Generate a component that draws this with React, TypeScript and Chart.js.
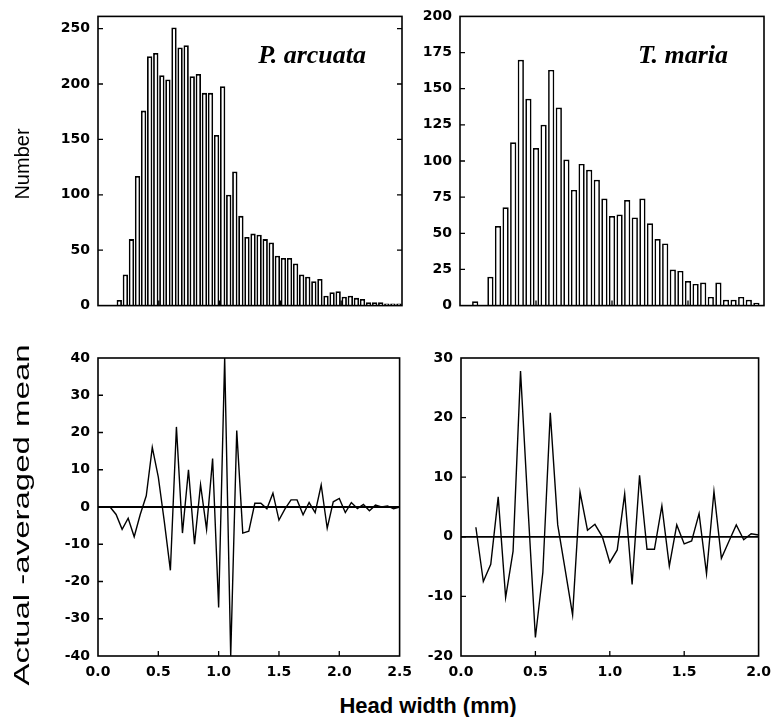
import React, { useEffect, useRef } from "react";
import { Chart, registerables } from "chart.js";
Chart.register(...registerables);

// ---- Data ----
const arcuataLabel = "P. arcuata";
const mariaLabel = "T. maria";

const arcuataBins = [
  0.175, 0.225, 0.275, 0.325, 0.375, 0.425, 0.475, 0.525, 0.575, 0.625,
  0.675, 0.725, 0.775, 0.825, 0.875, 0.925, 0.975, 1.025, 1.075, 1.125,
  1.175, 1.225, 1.275, 1.325, 1.375, 1.425, 1.475, 1.525, 1.575, 1.625,
  1.675, 1.725, 1.775, 1.825, 1.875, 1.925, 1.975, 2.025, 2.075, 2.125,
  2.175, 2.225, 2.275, 2.325, 2.375, 2.425, 2.475,
];
const arcuataCounts = [
  5, 28, 60, 117, 176, 225, 228, 208, 204, 251,
  233, 235, 207, 209, 192, 192, 154, 198, 100, 121,
  81, 62, 65, 64, 60, 57, 45, 43, 43, 38,
  28, 26, 22, 24, 9, 12, 13, 8, 9, 7,
  6, 3, 3, 3, 2, 2, 2,
];

const mariaBins = [
  0.1, 0.2, 0.25, 0.3, 0.35, 0.4, 0.45, 0.5, 0.55, 0.6,
  0.65, 0.7, 0.75, 0.8, 0.85, 0.9, 0.95, 1.0, 1.05, 1.1,
  1.15, 1.2, 1.25, 1.3, 1.35, 1.4, 1.45, 1.5, 1.55, 1.6,
  1.65, 1.7, 1.75, 1.8, 1.85, 1.9, 1.95,
];
const mariaCounts = [
  3, 20, 55, 68, 113, 170, 143, 109, 125, 163,
  137, 101, 80, 98, 94, 87, 74, 62, 63, 73,
  61, 74, 57, 46, 43, 25, 24, 17, 15, 16,
  6, 16, 4, 4, 6, 4, 2,
];

const arcuataDiffX = [
  0.1, 0.15, 0.2, 0.25, 0.3, 0.35, 0.4, 0.45, 0.5, 0.55,
  0.6, 0.65, 0.7, 0.75, 0.8, 0.85, 0.9, 0.95, 1.0, 1.05,
  1.1, 1.15, 1.2, 1.25, 1.3, 1.35, 1.4, 1.45, 1.5, 1.55,
  1.6, 1.65, 1.7, 1.75, 1.8, 1.85, 1.9, 1.95, 2.0, 2.05,
  2.1, 2.15, 2.2, 2.25, 2.3, 2.35, 2.4, 2.45, 2.5,
];
const arcuataDiff = [
  0, -2, -6, -3, -8, -2, 3, 16, 8, -4,
  -17, 21.5, -7, 10, -10, 6, -6, 13, -27, 40,
  -40, 20.5, -7, -6.5, 1, 1, -0.5, 3.7, -3.5, -0.5,
  1.9, 1.9, -2.1, 1.2, -1.5, 5.9, -5.7, 1.4, 2.3, -1.5,
  1.2, -0.4, 0.7, -1, 0.5, 0, 0.3, -0.5, 0,
];

const mariaDiffX = [
  0.1, 0.15, 0.2, 0.25, 0.3, 0.35, 0.4, 0.45, 0.5, 0.55,
  0.6, 0.65, 0.7, 0.75, 0.8, 0.85, 0.9, 0.95, 1.0, 1.05,
  1.1, 1.15, 1.2, 1.25, 1.3, 1.35, 1.4, 1.45, 1.5, 1.55,
  1.6, 1.65, 1.7, 1.75, 1.8, 1.85, 1.9, 1.95, 2.0,
];
const mariaDiff = [
  1.6, -7.5, -4.6, 6.7, -10.2, -2.4, 27.8, 5, -16.9, -6,
  20.8, 2, -5.5, -13.1, 7.5, 1.1, 2.1, 0, -4.3, -2.2,
  7.2, -8, 10.3, -2.1, -2.1, 5.2, -4.9, 2, -1.2, -0.7,
  3.9, -6.2, 7.6, -3.6, -0.8, 2, -0.5, 0.5, 0.3,
];

const xTicksArcuata = [0, 0.5, 1.0, 1.5, 2.0, 2.5];
const xTicksMaria = [0, 0.5, 1.0, 1.5, 2.0];
const yTicksArcuataCount = [0, 50, 100, 150, 200, 250];
const yTicksMariaCount = [0, 25, 50, 75, 100, 125, 150, 175, 200];
const yTicksArcuataDiff = [-40, -30, -20, -10, 0, 10, 20, 30, 40];
const yTicksMariaDiff = [-20, -10, 0, 10, 20, 30];

const xTitle = "Head width (mm)";
const yTitleTop = "Number";
const yTitleBottom = "Actual -averaged mean";

// ---- Plugin: frame, inward ticks, zero line, species label ----
const framePlugin = {
  id: "frame",
  afterDatasetsDraw(chart: any, _args: any, opts: any) {
    const { ctx, chartArea: a } = chart;
    const xs = chart.scales.x;
    const ys = chart.scales.y;
    ctx.save();
    ctx.strokeStyle = "#000";
    if (opts.zeroLine) {
      const y0 = ys.getPixelForValue(0);
      ctx.lineWidth = 1.8;
      ctx.beginPath();
      ctx.moveTo(a.left, y0);
      ctx.lineTo(a.right, y0);
      ctx.stroke();
    }
    ctx.lineWidth = 1.6;
    ctx.strokeRect(a.left, a.top, a.right - a.left, a.bottom - a.top);
    ctx.lineWidth = 1.3;
    const L = 5;
    ctx.beginPath();
    xs.ticks.forEach((t: any) => {
      const px = xs.getPixelForValue(t.value);
      if (px <= a.left + 1 || px >= a.right - 1) return;
      ctx.moveTo(px, a.bottom);
      ctx.lineTo(px, a.bottom - L);
    });
    ys.ticks.forEach((t: any) => {
      const py = ys.getPixelForValue(t.value);
      if (py <= a.top + 1 || py >= a.bottom - 1) return;
      ctx.moveTo(a.left, py);
      ctx.lineTo(a.left + L, py);
      if (opts.mirrorY) {
        ctx.moveTo(a.right, py);
        ctx.lineTo(a.right - L, py);
      }
    });
    ctx.stroke();
    if (opts.label) {
      ctx.font = 'italic bold 26px "Liberation Serif", "Times New Roman", serif';
      ctx.fillStyle = "#000";
      ctx.textAlign = "right";
      ctx.textBaseline = "alphabetic";
      ctx.fillText(opts.label, a.right - 36, a.top + 47);
    }
    ctx.restore();
  },
};

const tickFont = { family: '"DejaVu Sans", sans-serif', size: 14, weight: "bold" as const };

function makeOptions(p: {
  xMax: number;
  xTicks: number[];
  yMin: number;
  yMax: number;
  yTicks: number[];
  yWidth: number;
  padTop: number;
  padRight: number;
  xHeight: number;
  showX: boolean;
  zeroLine: boolean;
  mirrorY: boolean;
  label?: string;
}) {
  return {
    animation: false,
    responsive: false,
    devicePixelRatio: 1,
    layout: { padding: { top: p.padTop, right: p.padRight, left: 0, bottom: 0 } },
    plugins: {
      legend: { display: false },
      tooltip: { enabled: false },
      frame: { zeroLine: p.zeroLine, mirrorY: p.mirrorY, label: p.label },
    },
    scales: {
      x: {
        type: "linear",
        min: 0,
        max: p.xMax,
        offset: false,
        grid: { display: false, drawTicks: false, offset: false },
        border: { display: false },
        ticks: {
          display: p.showX,
          color: "#000",
          font: tickFont,
          padding: 8,
          maxRotation: 0,
          autoSkip: false,
          callback: (v: number) => Number(v).toFixed(1),
        },
        afterBuildTicks: (s: any) => {
          s.ticks = p.xTicks.map((v) => ({ value: v }));
        },
        afterFit: (s: any) => {
          s.height = p.xHeight;
        },
      },
      y: {
        type: "linear",
        min: p.yMin,
        max: p.yMax,
        grid: { display: false, drawTicks: false },
        border: { display: false },
        ticks: {
          color: "#000",
          font: tickFont,
          padding: 8,
          autoSkip: false,
        },
        afterBuildTicks: (s: any) => {
          s.ticks = p.yTicks.map((v) => ({ value: v }));
        },
        afterFit: (s: any) => {
          s.width = p.yWidth;
        },
      },
    },
  } as any;
}

function barConfig(bins: number[], counts: number[], opts: any, bw: number, bp: number) {
  return {
    type: "bar",
    data: {
      datasets: [
        {
          data: bins.map((b, i) => ({ x: b, y: counts[i] })),
          backgroundColor: "#fff",
          borderColor: "#000",
          borderWidth: bw,
          barPercentage: bp,
          categoryPercentage: 1.0,
        },
      ],
    },
    options: opts,
    plugins: [framePlugin],
  } as any;
}

function lineConfig(xs: number[], ys: number[], opts: any) {
  return {
    type: "line",
    data: {
      datasets: [
        {
          data: xs.map((x, i) => ({ x, y: ys[i] })),
          borderColor: "#000",
          borderWidth: 1.4,
          pointRadius: 0,
          tension: 0,
          fill: false,
        },
      ],
    },
    options: opts,
    plugins: [framePlugin],
  } as any;
}

export default function App() {
  const tl = useRef<HTMLCanvasElement>(null);
  const tr = useRef<HTMLCanvasElement>(null);
  const bl = useRef<HTMLCanvasElement>(null);
  const br = useRef<HTMLCanvasElement>(null);

  useEffect(() => {
    const charts = [
      new Chart(
        tl.current as HTMLCanvasElement,
        barConfig(
          arcuataBins,
          arcuataCounts,
          makeOptions({ xMax: 2.5, xTicks: xTicksArcuata, yMin: 0, yMax: 261, yTicks: yTicksArcuataCount, yWidth: 98, padTop: 15, padRight: 18, xHeight: 7, showX: false, zeroLine: false, mirrorY: true, label: arcuataLabel }),
          1.8,
          0.88
        )
      ),
      new Chart(
        tr.current as HTMLCanvasElement,
        barConfig(
          mariaBins,
          mariaCounts,
          makeOptions({ xMax: 2.0, xTicks: xTicksMaria, yMin: 0, yMax: 200, yTicks: yTicksMariaCount, yWidth: 60, padTop: 15, padRight: 15, xHeight: 7, showX: false, zeroLine: false, mirrorY: false, label: mariaLabel }),
          1.7,
          0.82
        )
      ),
      new Chart(
        bl.current as HTMLCanvasElement,
        lineConfig(
          arcuataDiffX,
          arcuataDiff,
          makeOptions({ xMax: 2.5, xTicks: xTicksArcuata, yMin: -40, yMax: 40, yTicks: yTicksArcuataDiff, yWidth: 98, padTop: 18, padRight: 18, xHeight: 34, showX: true, zeroLine: true, mirrorY: false })
        )
      ),
      new Chart(
        br.current as HTMLCanvasElement,
        lineConfig(
          mariaDiffX,
          mariaDiff,
          makeOptions({ xMax: 2.0, xTicks: xTicksMaria, yMin: -20, yMax: 30, yTicks: yTicksMariaDiff, yWidth: 61, padTop: 18, padRight: 14, xHeight: 34, showX: true, zeroLine: true, mirrorY: false })
        )
      ),
    ];
    return () => charts.forEach((c) => c.destroy());
  }, []);

  const sans = '"Liberation Sans", Arial, sans-serif';
  const rot: React.CSSProperties = {
    position: "absolute",
    whiteSpace: "nowrap",
    fontFamily: sans,
    lineHeight: 1,
    color: "#000",
  };

  return (
    <div style={{ position: "absolute", left: 0, top: 0, width: 779, height: 717, background: "#fff", overflow: "hidden" }}>
      <canvas ref={tl} width={420} height={322} style={{ position: "absolute", left: 0, top: 0 }} />
      <canvas ref={tr} width={379} height={322} style={{ position: "absolute", left: 400, top: 0 }} />
      <canvas ref={bl} width={420} height={350} style={{ position: "absolute", left: 0, top: 340 }} />
      <canvas ref={br} width={379} height={350} style={{ position: "absolute", left: 400, top: 340 }} />
      <div style={{ ...rot, left: 22, top: 164, fontSize: 20, transform: "translate(-50%, -50%) rotate(-90deg)" }}>{yTitleTop}</div>
      <div style={{ ...rot, left: 22, top: 515, fontSize: 22, transform: "translate(-50%, -50%) rotate(-90deg) scaleX(1.5)" }}>{yTitleBottom}</div>
      <div
        style={{
          position: "absolute",
          left: 428,
          top: 695,
          transform: "translateX(-50%)",
          whiteSpace: "nowrap",
          fontFamily: sans,
          fontWeight: "bold",
          fontSize: 22,
          lineHeight: "22px",
          color: "#000",
        }}
      >
        {xTitle}
      </div>
    </div>
  );
}
